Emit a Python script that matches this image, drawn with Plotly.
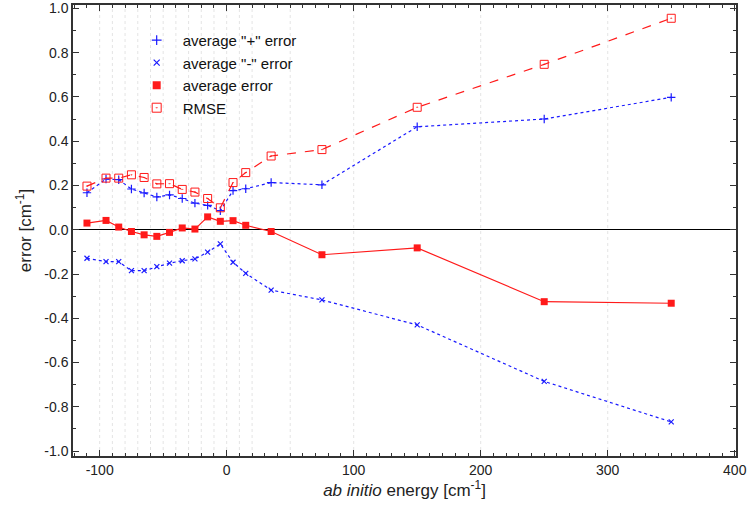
import plotly.graph_objects as go

# bin energies (cm-1)
energy = [-110, -95, -85, -75, -65, -55, -45, -35, -25, -15, -5, 5, 15, 35, 75, 150, 250, 350]

plus_err = [0.167, 0.229, 0.226, 0.184, 0.166, 0.148, 0.157, 0.141, 0.120, 0.110, 0.086, 0.177,
            0.185, 0.213, 0.203, 0.465, 0.500, 0.598]
minus_err = [-0.129, -0.144, -0.144, -0.185, -0.185, -0.167, -0.151, -0.140, -0.132, -0.101, -0.064,
             -0.147, -0.197, -0.273, -0.317, -0.430, -0.685, -0.868]
avg_err = [0.030, 0.042, 0.012, -0.008, -0.023, -0.030, -0.012, 0.008, 0.003, 0.058, 0.038, 0.041,
           0.020, -0.008, -0.113, -0.082, -0.325, -0.332]
rmse = [0.197, 0.233, 0.233, 0.248, 0.236, 0.207, 0.208, 0.182, 0.170, 0.141, 0.099, 0.213, 0.258,
        0.333, 0.362, 0.553, 0.747, 0.955]

grid_x = [-100, -90, -80, -70, -60, -50, -40, -30, -20, -10, 0, 10, 20, 50, 100, 200, 300]
x_ticks = [-100, 0, 100, 200, 300, 400]
y_ticks = [-1.0, -0.8, -0.6, -0.4, -0.2, 0.0, 0.2, 0.4, 0.6, 0.8, 1.0]

blue = "#1a1aff"
red = "#ff1a1a"

series = [
    ("average \"+\" error", plus_err, blue, "dot", "cross-thin", 6, 1.2),
    ("average \"-\" error", minus_err, blue, "dot", "x-thin", 5, 1.2),
    ("average error", avg_err, red, "solid", "square", 7, 0),
    ("RMSE", rmse, red, "dash", "square-open-dot", 8, 1),
]

fig = go.Figure()

for name, vals, col, dash, sym, size, lw in series:
    fig.add_trace(go.Scatter(
        x=energy, y=vals, mode="lines+markers", showlegend=False,
        line=dict(color=col, width=1.2, dash=dash),
        marker=dict(symbol=sym, size=size, color=col, line=dict(color=col, width=lw)),
    ))
    # legend entry: marker only
    fig.add_trace(go.Scatter(
        x=[None], y=[None], mode="markers", name=name,
        marker=dict(symbol=sym, size=size + 1, color=col, line=dict(color=col, width=lw)),
    ))

for gx in grid_x:
    fig.add_shape(type="line", x0=gx, x1=gx, y0=0, y1=1, xref="x", yref="paper",
                  layer="below", line=dict(color="#e4e4e4", width=1, dash="dot"))

axis_style = dict(
    showline=True, linecolor="#333333", linewidth=1.5, mirror="ticks",
    ticks="inside", ticklen=6, tickwidth=1, tickcolor="#333333",
    showgrid=False, tickfont=dict(size=14, color="#222222"), automargin=False,
)

fig.update_xaxes(
    range=[-121, 401], tickvals=x_ticks, ticktext=[str(v) for v in x_ticks],
    minor=dict(dtick=10, tick0=0, ticks="inside", ticklen=3, tickcolor="#333333", showgrid=False),
    zeroline=False,
    title=dict(text="<i>ab initio</i> energy [cm<sup>-1</sup>]", font=dict(size=17, color="#222222"),
               standoff=6),
    **axis_style,
)
fig.update_yaxes(
    range=[-1.022, 1.015], tickvals=y_ticks, ticktext=["%.1f" % v for v in y_ticks],
    minor=dict(dtick=0.1, tick0=0, ticks="inside", ticklen=3, tickcolor="#333333", showgrid=False),
    zeroline=True, zerolinecolor="black", zerolinewidth=1.2,
    title=dict(text="error [cm<sup>-1</sup>]", font=dict(size=17, color="#222222"), standoff=8),
    **axis_style,
)

fig.update_layout(
    width=750, height=508,
    margin=dict(l=73, r=14, t=5, b=52),
    plot_bgcolor="white", paper_bgcolor="white",
    font=dict(family="Liberation Sans, Arial, sans-serif", color="#222222"),
    legend=dict(x=0.087, y=0.958, xanchor="left", yanchor="top", bgcolor="rgba(0,0,0,0)",
                font=dict(size=15, color="#111111"), itemwidth=42, tracegroupgap=0),
)

# drop the browser's default page margin so the 750x508 figure fills the window
fig.write_html("out.html", config={"displayModeBar": False},
               post_script="document.body.style.margin='0';document.body.style.overflow='hidden';")
